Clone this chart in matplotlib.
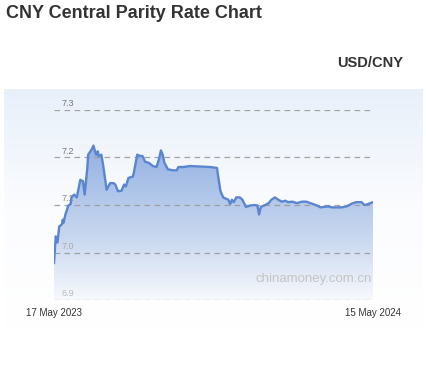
import numpy as np
import pandas as pd
import matplotlib
matplotlib.use("Agg")
from matplotlib import pyplot as plt
from matplotlib import dates as mdates
from matplotlib.colors import LinearSegmentedColormap
from matplotlib.patches import PathPatch

plt.rcParams['font.family'] = ['Liberation Sans', 'DejaVu Sans']

TITLE = "CNY Central Parity Rate Chart"
PAIR = "USD/CNY"
WATERMARK = "chinamoney.com.cn"

START = "2023-05-17"
# days after 17 May 2023
day_offsets = [0, 2, 4, 6, 9, 10, 11, 13, 15, 16, 19, 20, 23, 26, 30, 33, 35, 38, 39,
               43, 45, 48, 50, 51, 54, 56, 60, 64, 68, 70, 73, 77, 80, 82, 85, 90, 91,
               95, 97, 101, 104, 108, 113, 117, 120, 122, 124, 126, 130, 136, 140, 142,
               148, 155, 167, 178, 186, 187, 190, 193, 199, 201, 203, 205, 208, 212, 215,
               219, 224, 229, 232, 234, 236, 241, 245, 248, 252, 256, 260, 264, 267, 272,
               277, 283, 288, 294, 300, 304, 308, 313, 317, 323, 328, 334, 340, 345, 351,
               354, 357, 361, 364]
rates = [6.978, 7.034, 7.021, 7.055, 7.059, 7.069, 7.063, 7.080, 7.091, 7.098, 7.102,
         7.116, 7.122, 7.116, 7.153, 7.150, 7.122, 7.178, 7.206, 7.217, 7.225, 7.206,
         7.213, 7.203, 7.206, 7.185, 7.132, 7.146, 7.146, 7.143, 7.129, 7.130, 7.143,
         7.139, 7.157, 7.160, 7.167, 7.206, 7.204, 7.203, 7.191, 7.189, 7.182, 7.180,
         7.198, 7.215, 7.206, 7.189, 7.175, 7.173, 7.173, 7.180, 7.180, 7.182, 7.181,
         7.180, 7.178, 7.164, 7.129, 7.116, 7.111, 7.102, 7.111, 7.106, 7.116, 7.116,
         7.111, 7.096, 7.099, 7.100, 7.099, 7.080, 7.096, 7.100, 7.104, 7.111, 7.116,
         7.111, 7.107, 7.109, 7.106, 7.107, 7.104, 7.107, 7.107, 7.103, 7.099, 7.095,
         7.096, 7.097, 7.095, 7.095, 7.095, 7.097, 7.103, 7.106, 7.106, 7.100, 7.101,
         7.104, 7.106]
y_ticks = [6.9, 7.0, 7.1, 7.2, 7.3]
tick_colors = ["#bbbbbb", "#a8a8a8", "#888888", "#777777", "#777777"]
x_labels = ["17 May 2023", "15 May 2024"]

dates = pd.Timestamp(START) + pd.to_timedelta(day_offsets, unit="D")
x = mdates.date2num(dates.to_pydatetime())
y = np.array(rates)

W, H = 426, 366
fig = plt.figure(figsize=(W / 100, H / 100), dpi=100)

# light panel behind the chart
bg = fig.add_axes([4 / W, 1 - 328 / H, 419 / W, 239 / H])
bg_cmap = LinearSegmentedColormap.from_list("bg", ["#ffffff", "#fbfcfe", "#e8f0fa"])
bg.imshow(np.linspace(0, 1, 256).reshape(-1, 1), cmap=bg_cmap, aspect="auto",
          origin="lower", extent=[0, 1, 0, 1])
bg.set_axis_off()

ax = fig.add_axes([54 / W, 1 - 300 / H, 319 / W, 190 / H])
ax.set_facecolor("none")
for s in ax.spines.values():
    s.set_visible(False)

for v, c in zip(y_ticks, tick_colors):
    ax.axhline(v, color="#9a9a9a", lw=0.9, ls=(0, (4.5, 3.5)), alpha=0.9, zorder=2)
    ax.text(0.025, v + 0.004, f"{v:.1f}", transform=ax.get_yaxis_transform(),
            fontsize=6.5, color=c, va="bottom", ha="left", zorder=2)
ax.set_yticks([])

# gradient area under the line
poly = ax.fill_between(x, y, 6.9, color="none", lw=0)
fill_cmap = LinearSegmentedColormap.from_list(
    "fill", [(0, "#f7f9fd"), (0.35, "#c9d8f0"), (1, "#88a9e0")])
img = ax.imshow(np.linspace(0, 1, 256).reshape(-1, 1), cmap=fill_cmap, aspect="auto",
                origin="lower", extent=[x[0], x[-1], 6.9, 7.235], alpha=0.92, zorder=1)
img.set_clip_path(PathPatch(poly.get_paths()[0], transform=ax.transData))
ax.set_xlim(x[0], x[-1])
ax.set_ylim(6.9, 7.3)

ax.plot(x, y, color="#5a86d0", lw=1.7, zorder=3)

ax.set_xticks([x[0], x[-1]])
ax.set_xticklabels(x_labels, fontsize=7, color="#333333")
ax.tick_params(axis="x", length=0, pad=5.5)

ax.text(0.997, 0.11, WATERMARK, transform=ax.transAxes, ha="right", va="center",
        fontsize=9.5, color="#c4c4c4", zorder=4)

fig.text(6 / W, 1 - 14 / H, TITLE, fontsize=13, fontweight="bold", color="#333333",
         ha="left", va="center")
fig.text(403 / W, 1 - 63 / H, PAIR, fontsize=10.5, fontweight="bold", color="#333333",
         ha="right", va="center")

fig.savefig("out.png", dpi=100)
